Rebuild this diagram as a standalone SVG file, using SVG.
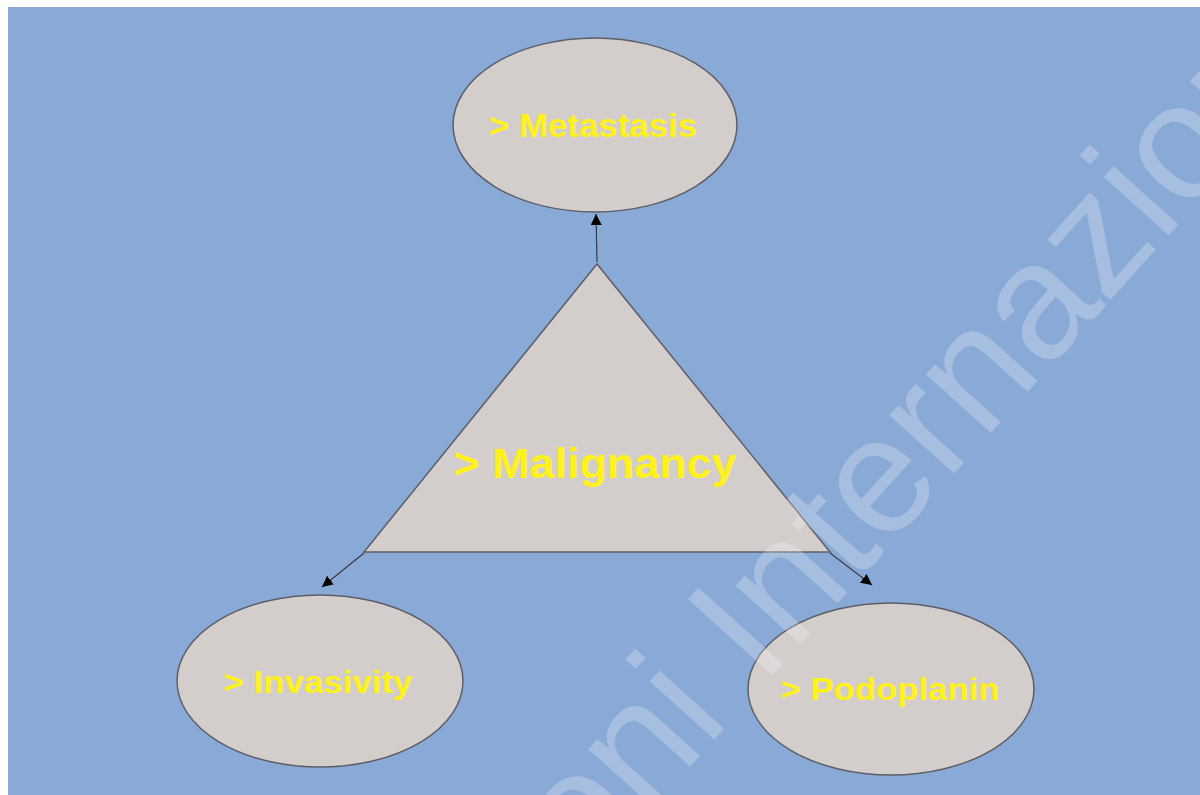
<svg xmlns="http://www.w3.org/2000/svg" width="1200" height="795" viewBox="0 0 1200 795">
  <defs>
    <marker id="arrow" viewBox="0 0 10 10" refX="10" refY="5" markerWidth="11" markerHeight="11" markerUnits="userSpaceOnUse" orient="auto">
      <path d="M0,0 L10,5 L0,10 z" fill="#000"/>
    </marker>
    <style>
      .shape { fill: #D3CDCB; stroke: #5E5E66; stroke-width: 1.5; }
      .label { font-family: "Liberation Sans", Arial, sans-serif; font-weight: bold; fill: #FFF21C; text-anchor: middle; }
      .link { stroke: #3A3A44; stroke-width: 1.2; fill: none; marker-end: url(#arrow); }
      .mark { font-family: "Liberation Sans", Arial, sans-serif; fill: #FFFFFF; fill-opacity: 0.25; }
    </style>
  </defs>

  <!-- page -->
  <rect x="0" y="0" width="1200" height="795" fill="#FFFFFF"/>
  <rect x="8" y="7" width="1192" height="788" fill="#89AAD7"/>

  <!-- central node -->
  <g id="malignancy">
    <polygon class="shape" points="597,264 830,552 364,552"/>
    <text class="label" x="595" y="478" font-size="43" textLength="283" lengthAdjust="spacingAndGlyphs">&gt; Malignancy</text>
  </g>

  <g id="metastasis">
    <ellipse class="shape" cx="595" cy="125" rx="142" ry="87"/>
    <text class="label" x="593" y="137" font-size="33" textLength="208" lengthAdjust="spacingAndGlyphs">&gt; Metastasis</text>
  </g>

  <g id="invasivity">
    <ellipse class="shape" cx="320" cy="681" rx="143" ry="86"/>
    <text class="label" x="318" y="693" font-size="31" textLength="189" lengthAdjust="spacingAndGlyphs">&gt; Invasivity</text>
  </g>

  <g id="podoplanin">
    <ellipse class="shape" cx="891" cy="689" rx="143" ry="86"/>
    <text class="label" x="890" y="700" font-size="31" textLength="219" lengthAdjust="spacingAndGlyphs">&gt; Podoplanin</text>
  </g>

  <!-- connectors -->
  <g id="connectors">
    <line class="link" x1="597" y1="262" x2="596" y2="214"/>
    <line class="link" x1="364" y1="553" x2="322" y2="587"/>
    <line class="link" x1="830" y1="553" x2="872" y2="585"/>
  </g>

  <!-- publisher watermark -->
  <text class="mark" x="345" y="1150" font-size="165" transform="rotate(-48 345 1150)">Edizioni Internazionali</text>
</svg>
